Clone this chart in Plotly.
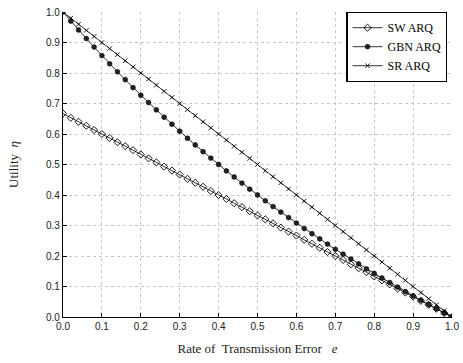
import plotly.graph_objects as go

error_rate = [0.00, 0.02, 0.04, 0.06, 0.08, 0.10, 0.12, 0.14, 0.16, 0.18,
              0.20, 0.22, 0.24, 0.26, 0.28, 0.30, 0.32, 0.34, 0.36, 0.38,
              0.40, 0.42, 0.44, 0.46, 0.48, 0.50, 0.52, 0.54, 0.56, 0.58,
              0.60, 0.62, 0.64, 0.66, 0.68, 0.70, 0.72, 0.74, 0.76, 0.78,
              0.80, 0.82, 0.84, 0.86, 0.88, 0.90, 0.92, 0.94, 0.96, 0.98, 1.00]

sw_arq = [0.667, 0.653, 0.640, 0.627, 0.613, 0.600, 0.587, 0.573, 0.560, 0.547,
          0.533, 0.520, 0.507, 0.493, 0.480, 0.467, 0.453, 0.440, 0.427, 0.413,
          0.400, 0.387, 0.373, 0.360, 0.347, 0.333, 0.320, 0.307, 0.293, 0.280,
          0.267, 0.253, 0.240, 0.227, 0.213, 0.200, 0.187, 0.173, 0.160, 0.147,
          0.133, 0.120, 0.107, 0.093, 0.080, 0.067, 0.053, 0.040, 0.027, 0.013, 0.000]

gbn_arq = [1.000, 0.970, 0.941, 0.913, 0.885, 0.857, 0.830, 0.804, 0.778, 0.752,
           0.727, 0.703, 0.679, 0.655, 0.632, 0.609, 0.586, 0.564, 0.542, 0.521,
           0.500, 0.479, 0.459, 0.439, 0.419, 0.400, 0.381, 0.362, 0.344, 0.326,
           0.308, 0.290, 0.273, 0.256, 0.239, 0.222, 0.206, 0.190, 0.174, 0.158,
           0.143, 0.128, 0.113, 0.098, 0.083, 0.069, 0.055, 0.041, 0.027, 0.013, 0.000]

sr_arq = [1.00, 0.98, 0.96, 0.94, 0.92, 0.90, 0.88, 0.86, 0.84, 0.82,
          0.80, 0.78, 0.76, 0.74, 0.72, 0.70, 0.68, 0.66, 0.64, 0.62,
          0.60, 0.58, 0.56, 0.54, 0.52, 0.50, 0.48, 0.46, 0.44, 0.42,
          0.40, 0.38, 0.36, 0.34, 0.32, 0.30, 0.28, 0.26, 0.24, 0.22,
          0.20, 0.18, 0.16, 0.14, 0.12, 0.10, 0.08, 0.06, 0.04, 0.02, 0.00]

tick_vals = [0.0, 0.1, 0.2, 0.3, 0.4, 0.5, 0.6, 0.7, 0.8, 0.9, 1.0]

fig = go.Figure()
fig.add_trace(go.Scatter(
    x=error_rate, y=sw_arq, name="SW ARQ", mode="lines+markers",
    line=dict(color="black", width=0.8),
    marker=dict(symbol="diamond-open", size=5.5, color="black", line=dict(width=0.9, color="black"))))
fig.add_trace(go.Scatter(
    x=error_rate, y=gbn_arq, name="GBN ARQ", mode="lines+markers",
    line=dict(color="black", width=0.8),
    marker=dict(symbol="circle", size=4.8, color="#222", line=dict(width=0.6, color="black"))))
fig.add_trace(go.Scatter(
    x=error_rate, y=sr_arq, name="SR ARQ", mode="lines+markers",
    line=dict(color="black", width=0.8),
    marker=dict(symbol="x-thin-open", size=4.5, color="black", line=dict(width=0.9, color="black"))))

axis_common = dict(
    range=[0, 1], tickvals=tick_vals, tickformat=".1f",
    showgrid=True, gridcolor="#c8c8c8", griddash="dot", gridwidth=0.8,
    showline=True, linecolor="black", linewidth=1.2, mirror=False,
    ticks="inside", ticklen=4, tickcolor="black",
    tickfont=dict(family="Liberation Sans, Arial", size=10, color="#222"),
    zeroline=False, automargin=False,
)

fig.update_layout(
    width=463, height=363,
    margin=dict(l=63, r=11, t=12, b=46),
    paper_bgcolor="white", plot_bgcolor="white",
    xaxis=dict(axis_common,
               title=dict(text="Rate of  Transmission Error   <i>e</i>",
                          font=dict(family="Liberation Serif, Times New Roman", size=13, color="#222"),
                          standoff=12)),
    yaxis=dict(axis_common,
               title=dict(text="Utility  <i>η</i>",
                          font=dict(family="Liberation Serif, Times New Roman", size=13, color="#222"),
                          standoff=24)),
    legend=dict(x=0.988, y=1.0, xanchor="right", yanchor="top",
                bgcolor="white", bordercolor="black", borderwidth=1.2,
                font=dict(family="Liberation Serif, Times New Roman", size=12, color="black"),
                itemwidth=30, tracegroupgap=0),
    showlegend=True,
)

fig.write_html("out.html", config={"displayModeBar": False},
               post_script="document.body.style.margin='0px';document.body.style.overflow='hidden';")
